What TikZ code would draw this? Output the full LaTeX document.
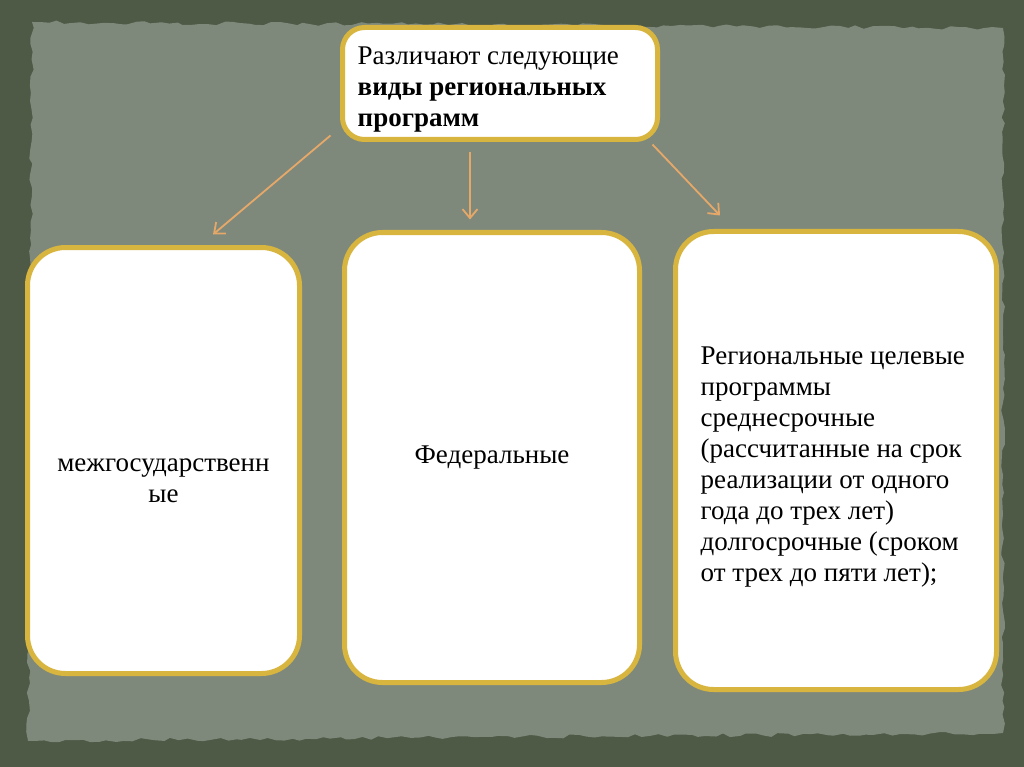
\documentclass[tikz,border=0pt]{standalone}
\usepackage{fontspec}
\setmainfont{Liberation Serif}
\usepackage{xcolor}
\usetikzlibrary{arrows.meta}
\usetikzlibrary{decorations.pathmorphing, math, positioning}

\definecolor{slateback}{HTML}{4E5A45}
\definecolor{paperback}{HTML}{7E897C}
\definecolor{boxgold}{HTML}{D8B53E}
\definecolor{arrowtan}{HTML}{E6A868}

\tikzset{
kindbox/.style={draw=boxgold, line width=5, fill=white, rounded corners=38, inner sep=0},
kindtext/.style={font=\fontsize{27}{31}\selectfont, inner sep=0},
arr/.style={-{Straight Barb[length=9,width=15]}, draw=arrowtan, line width=1.8}
}

\begin{document}
\begin{tikzpicture}[x=1pt,y=-1pt]
\tikzmath{
\W=1024;
\H=767;
}
\useasboundingbox (0,0) rectangle (\W,\H);
\fill[slateback] (0,0) rectangle (\W,\H);
\fill[paperback, decorate, decoration={random steps, segment length=8, amplitude=2}]
 (32,22) -- (1003,28) -- (1003,733) -- (28,741) -- cycle;

\node[kindbox, rounded corners=22, minimum width=315, minimum height=112] (kinds) at (500,83.5) {};
\node[kindbox, minimum width=272, minimum height=426] (mezh) at (163.5,460.5) {};
\node[kindbox, minimum width=295, minimum height=450] (fed) at (492,457.5) {};
\node[kindbox, minimum width=321, minimum height=458] (reg) at (836,460.5) {};

\node[kindtext, align=left, anchor=north west] (kindslbl) at ([xshift=17.5,yshift=-22]kinds.north west)
 {Различают следующие\\ \textbf{виды региональных}\\ \textbf{программ}};
\node[kindtext, align=center] (mezhlbl) at ([yshift=-20]mezh.center) {межгосударственн\\ые};
\node[kindtext, align=center] (fedlbl) at (fed.center) {Федеральные};
\node[kindtext, align=left, anchor=north west] (reglbl) at ([xshift=27.5,yshift=-118]reg.north west)
 {Региональные целевые\\программы\\среднесрочные\\(рассчитанные на срок\\реализации от одного\\года до трех лет)\\долгосрочные (сроком\\от трех до пяти лет);};

\draw[arr] ([xshift=-9.5,yshift=6.5]kinds.south west) -- ([xshift=49.5,yshift=10.5]mezh.north);
\draw[arr] ([xshift=-30,yshift=-10.5]kinds.south) -- ([xshift=-22,yshift=10.5]fed.north);
\draw[arr] ([xshift=-7.5,yshift=-2.5]kinds.south east) -- ([xshift=-116,yshift=13.5]reg.north);

\end{tikzpicture}
\end{document}
